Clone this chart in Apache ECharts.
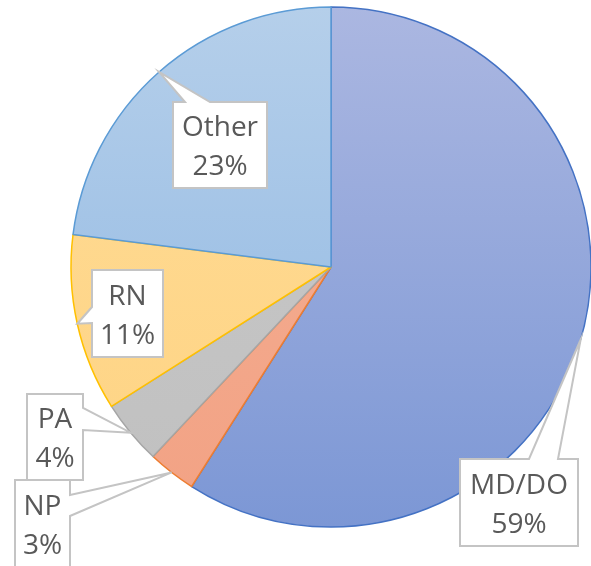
<!DOCTYPE html>
<html>
<head>
<meta charset="utf-8">
<script src="https://cdn.jsdelivr.net/npm/echarts@6/dist/echarts.min.js"></script>
<style>
  html, body { margin: 0; padding: 0; background: #fff; }
  #chart { width: 591px; height: 566px; }
</style>
</head>
<body>
<div id="chart"></div>
<script>
// 数据
var categories = ['MD/DO', 'NP', 'PA', 'RN', 'Other'];
var shares = [59, 3, 4, 11, 23];

// 每块的颜色 (渐变上/下, 边框)
var topColors = ['#abb7e1', '#f5b095', '#c9c9c9', '#ffdc96', '#b5cfea'];
var bottomColors = ['#7c97d5', '#f2a284', '#c0c0c0', '#fed383', '#8db6e2'];
var borderColors = ['#4472c4', '#ed7d31', '#a5a5a5', '#ffc000', '#5b9bd5'];

// 饼图位置
var pieCenter = [331, 267];
var pieRadius = 260;

// 标注框 [x0, y0, x1, y1], 尖角所在的边, 尖角底部的两个位置
var boxes = [[460, 459, 578, 546], [15, 480, 70, 590], [27, 394, 83, 480], [92, 270, 163, 357], [173, 102, 267, 188]];
var wedgeSide = ['top', 'right', 'right', 'left', 'top'];
var wedgeBase = [[529, 558], [495, 516], [408, 430], [307, 323], [185, 210]];

var chart = echarts.init(document.getElementById('chart'));

var pieData = categories.map(function (name, i) {
  return {
    name: name,
    value: shares[i],
    itemStyle: {
      color: new echarts.graphic.LinearGradient(0, 7, 0, 527, [
        { offset: 0, color: topColors[i] },
        { offset: 1, color: bottomColors[i] }
      ], true),
      borderColor: borderColors[i],
      borderWidth: 1.5
    }
  };
});

// 每块中间角度在饼边上的点 (从上方顺时针)
var total = shares.reduce(function (a, b) { return a + b; }, 0);
var acc = 0;
var tips = shares.map(function (v) {
  var mid = (acc + v / 2) / total * Math.PI * 2;
  acc += v;
  return [pieCenter[0] + pieRadius * Math.sin(mid), pieCenter[1] - pieRadius * Math.cos(mid)];
});

// 画带尖角的标注框
const calloutPoints = (i) => {
  var b = boxes[i], s = wedgeSide[i], w = wedgeBase[i], t = tips[i];
  var pts = [[b[0], b[1]]];
  if (s === 'top') pts.push([w[0], b[1]], t, [w[1], b[1]]);
  pts.push([b[2], b[1]]);
  if (s === 'right') pts.push([b[2], w[0]], t, [b[2], w[1]]);
  pts.push([b[2], b[3]], [b[0], b[3]]);
  if (s === 'left') pts.push([b[0], w[1]], t, [b[0], w[0]]);
  return pts;
};

var callouts = [];
categories.forEach(function (name, i) {
  var b = boxes[i];
  callouts.push({
    type: 'polygon',
    z: 100,
    shape: { points: calloutPoints(i) },
    style: { fill: '#fff', stroke: '#c4c4c4', lineWidth: 2 }
  });
  callouts.push({
    type: 'text',
    z: 101,
    x: (b[0] + b[2]) / 2,
    y: (b[1] + Math.min(b[3], b[1] + 87)) / 2 + 3,
    style: {
      text: name + '\n' + shares[i] + '%',
      fontFamily: 'Open Sans',
      fontSize: 28,
      lineHeight: 39,
      fill: '#595959',
      align: 'center',
      verticalAlign: 'middle'
    }
  });
});

chart.setOption({
  animation: false,
  series: [{
    type: 'pie',
    center: pieCenter,
    radius: [0, pieRadius],
    startAngle: 90,
    clockwise: true,
    data: pieData,
    label: { show: false },
    labelLine: { show: false }
  }],
  graphic: { elements: callouts }
});
</script>
</body>
</html>
